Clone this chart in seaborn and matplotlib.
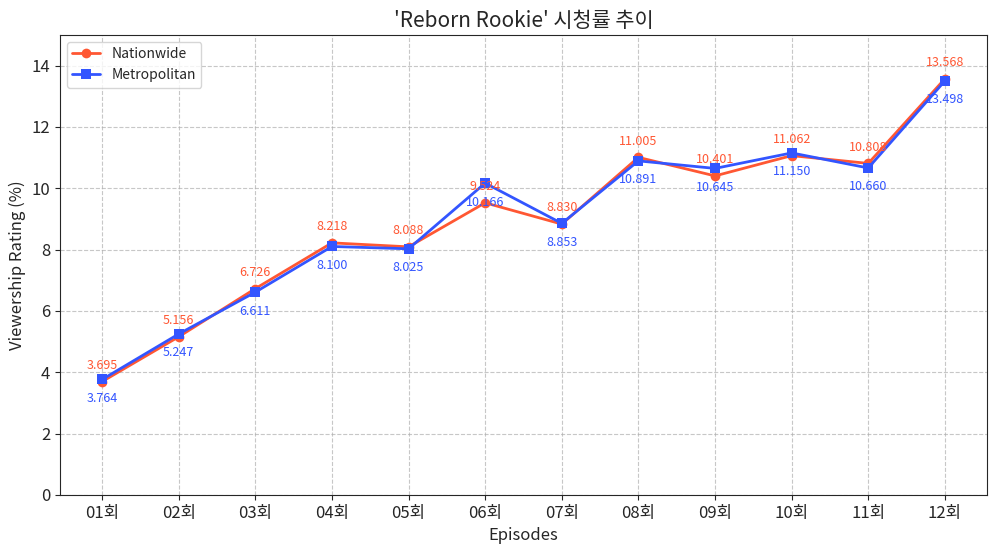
import matplotlib
matplotlib.use('Agg')
import matplotlib.pyplot as plt
import seaborn as sns
import pandas as pd

episodes = ['01회', '02회', '03회', '04회', '05회', '06회', '07회', '08회', '09회', '10회', '11회', '12회']
nationwide = [3.695, 5.156, 6.726, 8.218, 8.088, 9.524, 8.830, 11.005, 10.401, 11.062, 10.808, 13.568]
metropolitan = [3.764, 5.247, 6.611, 8.100, 8.025, 10.166, 8.853, 10.891, 10.645, 11.150, 10.660, 13.498]

df = pd.DataFrame({'episode': episodes, 'Nationwide': nationwide, 'Metropolitan': metropolitan})

sns.set_style('ticks')
plt.rcParams['font.family'] = ['Noto Sans CJK KR', 'DejaVu Sans']

c_nat = '#FF5733'
c_met = '#3355FF'

fig, ax = plt.subplots(figsize=(9.99, 5.53), dpi=100)
sns.lineplot(x='episode', y='Nationwide', data=df, marker='o', color=c_nat, linewidth=2,
             markersize=7, markeredgewidth=0, label='Nationwide', ax=ax, sort=False)
sns.lineplot(x='episode', y='Metropolitan', data=df, marker='s', color=c_met, linewidth=2,
             markersize=7, markeredgewidth=0, label='Metropolitan', ax=ax, sort=False)

# value labels: nationwide above, metropolitan below
for i, (n, m) in enumerate(zip(nationwide, metropolitan)):
    ax.annotate(f'{n:.3f}', (i, n), textcoords='offset points', xytext=(0, 7),
                ha='center', va='bottom', fontsize=9, color=c_nat)
    ax.annotate(f'{m:.3f}', (i, m), textcoords='offset points', xytext=(0, -9),
                ha='center', va='top', fontsize=9, color=c_met)

ax.set_ylim(0, 15)
ax.set_yticks(range(0, 15, 2))
ax.grid(True, linestyle='--', color='#b0b0b0', alpha=0.7)
ax.set_title("'Reborn Rookie' 시청률 추이", fontsize=15)
ax.set_xlabel('Episodes', fontsize=12)
ax.set_ylabel('Viewership Rating (%)', fontsize=12)
ax.tick_params(labelsize=12)
ax.legend(loc='upper left', fontsize=10)

plt.subplots_adjust(left=0.06, right=0.988, top=0.937, bottom=0.105)
plt.savefig('out.png')
